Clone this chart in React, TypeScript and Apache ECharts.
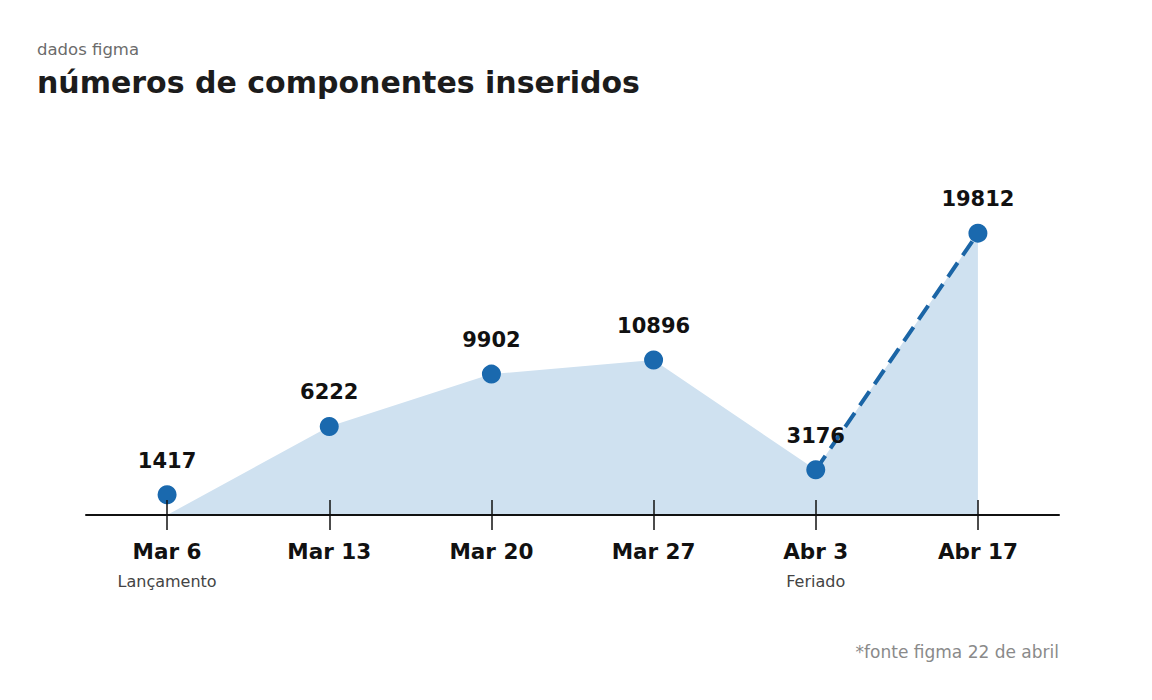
import React, { useEffect, useRef } from "react";
import * as echarts from "echarts";

const categories = ["Mar 6", "Mar 13", "Mar 20", "Mar 27", "Abr 3", "Abr 17"];
const notes = ["Lançamento", "", "", "", "Feriado", ""];
const values = [1417, 6222, 9902, 10896, 3176, 19812];
// the shaded area starts from the baseline at the first week
const areaValues = [0, 6222, 9902, 10896, 3176, 19812];
// dashed segment (last two weeks)
const dashedValues = [null, null, null, null, 3176, 19812];

const FONT = '"DejaVu Sans", sans-serif';

export default function App() {
  const ref = useRef<HTMLDivElement>(null);
  useEffect(() => {
    document.body.style.margin = "0";
    const chart = echarts.init(ref.current!, null, { renderer: "svg" });
    chart.setOption({
      animation: false,
      backgroundColor: "#ffffff",
      textStyle: { fontFamily: FONT },
      grid: { left: 86, right: 93, top: 202, bottom: 185 },
      xAxis: [
        {
          type: "category",
          data: categories,
          boundaryGap: true,
          z: 10,
          axisLine: { show: true, lineStyle: { color: "#111111", width: 2 } },
          axisTick: { show: true, alignWithLabel: true, length: 15, lineStyle: { color: "#111111", width: 1.5 } },
          axisLabel: {
            margin: 24,
            formatter: (v: string, i: number) =>
              notes[i] ? `{a|${v}}\n{b|${notes[i]}}` : `{a|${v}}`,
            rich: {
              a: { fontFamily: FONT, fontWeight: "bold", fontSize: 21.5, color: "#111111", lineHeight: 24 },
              b: { fontFamily: FONT, fontSize: 16, color: "#444444", lineHeight: 36 },
            },
          },
        },
        {
          type: "category",
          data: categories,
          boundaryGap: true,
          position: "bottom",
          z: 10,
          axisLine: { show: false },
          axisTick: { show: true, alignWithLabel: true, inside: true, length: 15, lineStyle: { color: "#111111", width: 1.5 } },
          axisLabel: { show: false },
        },
      ],
      yAxis: {
        type: "value",
        min: 0,
        max: 22000,
        show: false,
        splitLine: { show: false },
      },
      series: [
        {
          type: "line",
          data: areaValues,
          symbol: "none",
          lineStyle: { width: 0 },
          areaStyle: { color: "#cfe1f0", opacity: 1 },
          z: 1,
        },
        {
          type: "line",
          data: dashedValues,
          symbol: "none",
          lineStyle: { color: "#1b65a6", width: 4, type: [17, 9] },
          z: 2,
        },
        {
          type: "scatter",
          data: values,
          symbolSize: 19,
          itemStyle: { color: "#1a69ae", opacity: 1 },
          label: {
            show: true,
            position: "top",
            distance: 14,
            fontFamily: FONT,
            fontWeight: "bold",
            fontSize: 21,
            color: "#111111",
          },
          z: 3,
        },
      ],
      graphic: [
        {
          type: "text",
          left: 37,
          top: 41,
          style: { text: "dados figma", fontFamily: FONT, fontSize: 16.5, fill: "#6b6b6b" },
        },
        {
          type: "text",
          left: 37,
          top: 67,
          style: {
            text: "números de componentes inseridos",
            fontFamily: FONT,
            fontWeight: "bold",
            fontSize: 30,
            fill: "#1c1c1c",
          },
        },
        {
          type: "text",
          right: 93,
          top: 643,
          style: { text: "*fonte figma 22 de abril", fontFamily: FONT, fontSize: 17, fill: "#8a8a8a" },
        },
      ],
    });
    return () => chart.dispose();
  }, []);
  return <div ref={ref} style={{ width: 1152, height: 700 }} />;
}
